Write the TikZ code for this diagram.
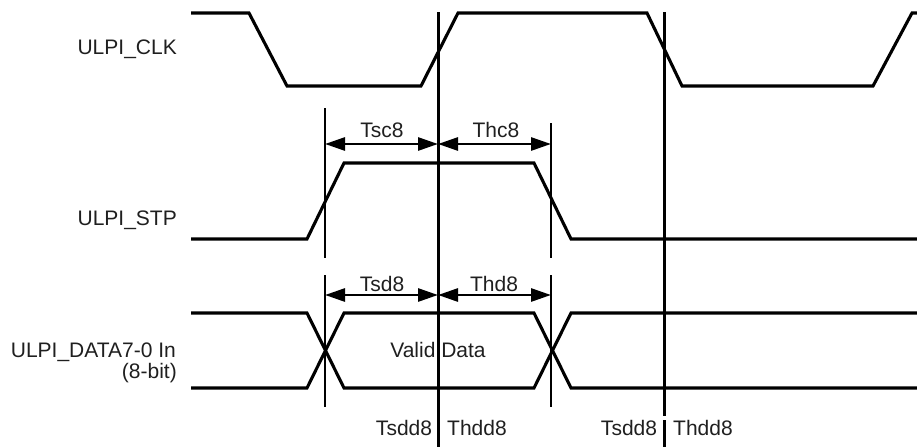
\documentclass[tikz,border=0pt]{standalone}
\usepackage{fontspec}
\setmainfont{Liberation Sans}
\usetikzlibrary{arrows.meta}
\begin{document}
\begin{tikzpicture}[x=1pt,y=-1pt,
  wave/.style={line width=3.1pt, line join=miter},
  refline/.style={line width=3pt},
  guide/.style={line width=2.2pt},
  dim/.style={line width=2.8pt, {Triangle[length=20pt,width=13pt]}-{Triangle[length=20pt,width=13pt]}},
  lbl/.style={font=\fontsize{21}{22}\selectfont, text=black!88, inner sep=0pt},
  sig/.style={lbl, anchor=base east, align=right}]
\useasboundingbox (0,0) rectangle (917,447);

% signal names
\node[sig] (nclk) at (177,54) {ULPI\_CLK};
\node[sig] (nstp) at (177,225) {ULPI\_STP};
\node[sig] (ndata) at (176,357) {ULPI\_DATA7-0 In};
\node[sig] (ndata2) at (177,378) {(8-bit)};

% clock
\draw[wave] (191,13) -- (249,13) -- (287,86) -- (421,86) -- (458,13) -- (647,13) -- (682,86) -- (873,86) -- (912,13) -- (917,13);

% stp
\draw[wave] (191,239) -- (307,239) -- (344,163) -- (534,163) -- (571,239) -- (917,239);

% data bus
\draw[wave] (191,313) -- (307,313) -- (344,388) -- (534,388) -- (571,313) -- (917,313);
\draw[wave] (191,388) -- (307,388) -- (344,313) -- (534,313) -- (571,388) -- (917,388);

% reference lines
\coordinate (r1t) at (438,12);
\coordinate (r1b) at (438,447);
\coordinate (r2t) at (664,12);
\coordinate (r2b) at (664,416);
\coordinate (r2c) at (664,420);
\coordinate (r2d) at (664,447);
\draw[refline] (r1t) -- (r1b);
\draw[refline] (r2t) -- (r2b);
\draw[refline] (r2c) -- (r2d);

% guide lines
\coordinate (g1a) at (325,108);
\coordinate (g1b) at (325,258);
\coordinate (g1c) at (325,275);
\coordinate (g1d) at (325,407);
\coordinate (g2a) at (551,123);
\coordinate (g2b) at (551,258);
\coordinate (g2c) at (551,275);
\coordinate (g2d) at (551,407);
\draw[guide] (g1a) -- (g1b);
\draw[guide] (g1c) -- (g1d);
\draw[guide] (g2a) -- (g2b);
\draw[guide] (g2c) -- (g2d);

% dimension arrows
\coordinate (a1) at (325,144);
\coordinate (a2) at (438,144);
\coordinate (a3) at (551,144);
\coordinate (b1) at (325,295);
\coordinate (b2) at (438,295);
\coordinate (b3) at (551,295);
\draw[dim] (a1) -- (a2);
\draw[dim] (a2) -- (a3);
\draw[dim] (b1) -- (b2);
\draw[dim] (b2) -- (b3);

% labels
\node[lbl] (tsc) at (382,130) {Tsc8};
\node[lbl] (thc) at (496,130) {Thc8};
\node[lbl] (tsd) at (382,284) {Tsd8};
\node[lbl] (thd) at (494,284) {Thd8};
\node[lbl] (vd) at (438,350) {Valid Data};
\node[lbl] (tsdd1) at (404,428) {Tsdd8};
\node[lbl] (thdd1) at (477,428) {Thdd8};
\node[lbl] (tsdd2) at (629,428) {Tsdd8};
\node[lbl] (thdd2) at (703,428) {Thdd8};
\end{tikzpicture}
\end{document}
